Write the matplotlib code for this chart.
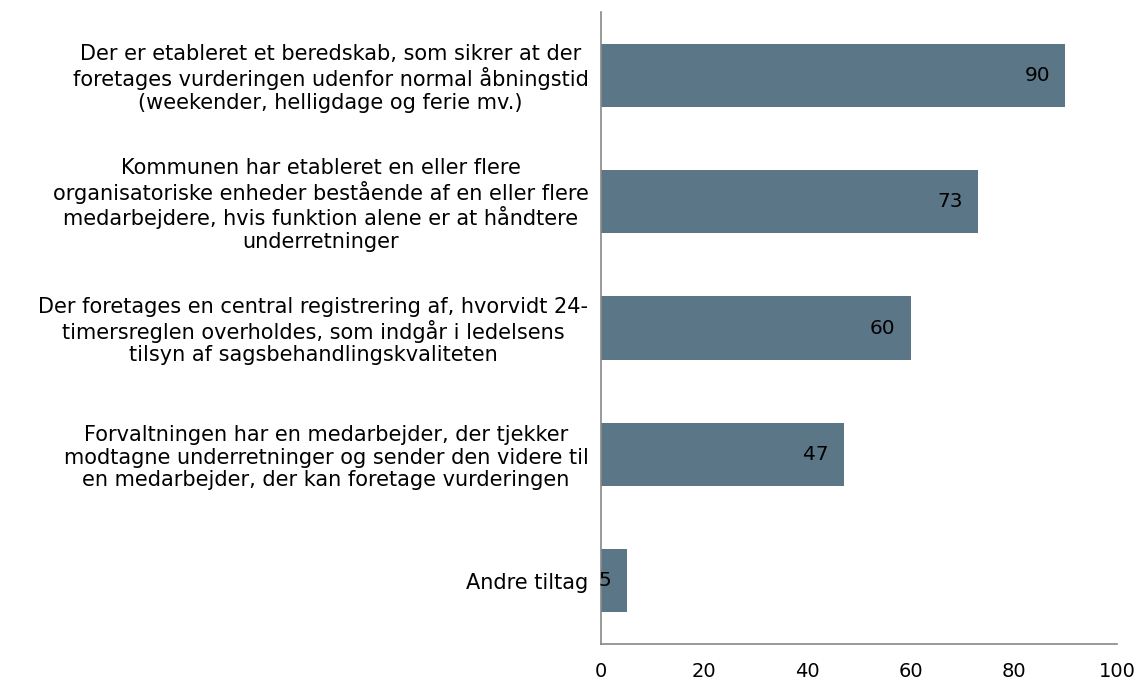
import matplotlib
matplotlib.use("Agg")
import matplotlib.pyplot as plt

categories = [
    "Der er etableret et beredskab, som sikrer at der\nforetages vurderingen udenfor normal åbningstid\n(weekender, helligdage og ferie mv.)",
    "Kommunen har etableret en eller flere\norganisatoriske enheder bestående af en eller flere\nmedarbejdere, hvis funktion alene er at håndtere\nunderretninger",
    "Der foretages en central registrering af, hvorvidt 24-\ntimersreglen overholdes, som indgår i ledelsens\ntilsyn af sagsbehandlingskvaliteten",
    "Forvaltningen har en medarbejder, der tjekker\nmodtagne underretninger og sender den videre til\nen medarbejder, der kan foretage vurderingen",
    "Andre tiltag",
]
values = [90, 73, 60, 47, 5]
xticks = [0, 20, 40, 60, 80, 100]

plt.rcParams['font.family'] = ['DejaVu Sans']
fig = plt.figure(figsize=(11.41, 6.82), dpi=100)
ax = fig.add_axes([0.5267, 0.0557, 0.979 - 0.5267, 0.9824 - 0.0557])

ypos = list(range(len(categories)))
ax.barh(ypos, values, height=0.5, color="#5b7686")
ax.set_ylim(len(categories) - 0.5, -0.5)
ax.set_xlim(0, 100)
ax.set_xticks(xticks)
ax.set_xticklabels([str(t) for t in xticks], fontsize=14)
ax.set_yticks(ypos)
ax.set_yticklabels(categories, fontsize=15, multialignment="center", linespacing=1.15)
ax.tick_params(axis="both", length=0)
ax.tick_params(axis="x", pad=13)
ax.tick_params(axis="y", pad=9)

for y, v in zip(ypos, values):
    ax.annotate(str(v), xy=(v, y), xytext=(-11, 0), textcoords="offset points",
                ha="right", va="center", fontsize=14.5, color="black")

for s in ["top", "right"]:
    ax.spines[s].set_visible(False)
for s in ["left", "bottom"]:
    ax.spines[s].set_color("#888888")
    ax.spines[s].set_linewidth(1.2)

fig.savefig("out.png", dpi=100)
